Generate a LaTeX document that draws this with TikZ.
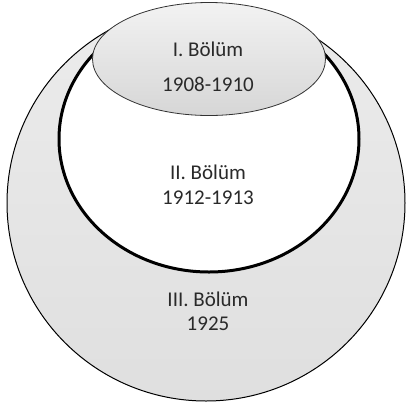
\documentclass[tikz,border=0pt]{standalone}
\usepackage{fontspec}
\setmainfont{Carlito}
\usetikzlibrary{shapes.geometric}
\definecolor{txt}{HTML}{2A2A2A}
\tikzset{
  lbl/.style={text=txt, font=\fontsize{21}{24}\selectfont, inner sep=0pt, anchor=center},
  outerring/.style={ellipse, draw=black, line width=1pt, top color=gray!15, bottom color=gray!25, inner sep=0pt},
  midring/.style={ellipse, draw=black, line width=3pt, fill=white, inner sep=0pt},
  topcap/.style={ellipse, draw=black!80, line width=0.8pt, top color=gray!10, bottom color=gray!32, inner sep=0pt}
}
\begin{document}
\begin{tikzpicture}[x=1pt,y=-1pt]
\useasboundingbox (0,0) rectangle (410,408);
\node[outerring, minimum width=398pt, minimum height=396pt] (outer) at (206,203) {};
\node[midring, minimum width=300pt, minimum height=266pt] (mid) at (209,139) {};
\node[topcap, minimum width=233pt, minimum height=113pt] (top) at (209,59) {};
\node[lbl] (t1) at (208,49) {I. Bölüm};
\node[lbl] (t2) at (208,84) {1908-1910};
\node[lbl] (t3) at (208,172) {II. Bölüm};
\node[lbl] (t4) at (208,198) {1912-1913};
\node[lbl] (t5) at (208,299) {III. Bölüm};
\node[lbl] (t6) at (208,324) {1925};
\end{tikzpicture}
\end{document}
